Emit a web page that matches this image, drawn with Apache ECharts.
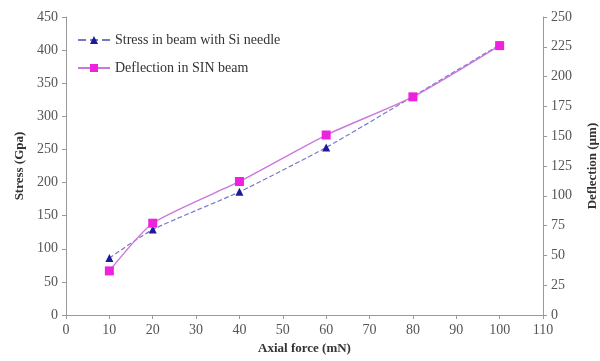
<!DOCTYPE html>
<html>
<head>
<meta charset="utf-8">
<script src="https://cdn.jsdelivr.net/npm/echarts@6/dist/echarts.min.js"></script>
<style>
  html, body { margin: 0; padding: 0; background: #fff; }
  #chart { width: 600px; height: 361px; }
</style>
</head>
<body>
<div id="chart"></div>
<script>
// values
var forces = [10, 20, 40, 60, 80, 100];
var stress = [86, 129, 186, 253, 330, 408];
var deflection = [37, 77, 112, 151, 183, 226];

var font = 'Liberation Serif';

function pairs(xs, ys) {
    return xs.map(function (x, i) { return [x, ys[i]]; });
}

var chart = echarts.init(document.getElementById('chart'));
chart.setOption({
    animation: false,
    textStyle: { fontFamily: font },
    grid: { left: 66, right: 57, top: 17, bottom: 46, outerBoundsMode: 'none' },
    legend: {
        orient: 'vertical',
        left: 72,
        top: 28,
        itemGap: 14,
        itemWidth: 32,
        itemHeight: 10,
        textStyle: { fontFamily: font, fontSize: 14, color: '#333' },
        data: ['Stress in beam with Si needle', 'Deflection in SIN beam']
    },
    xAxis: {
        type: 'value',
        min: 0,
        max: 110,
        interval: 10,
        name: 'Axial force (mN)',
        nameLocation: 'middle',
        nameGap: 24,
        nameTextStyle: { fontFamily: font, fontWeight: 'bold', fontSize: 13, color: '#333' },
        axisLine: { lineStyle: { color: '#999' } },
        axisTick: { show: true, length: 4, lineStyle: { color: '#999' } },
        axisLabel: { color: '#555', fontSize: 14, fontFamily: font },
        splitLine: { show: false }
    },
    yAxis: [{
        type: 'value',
        min: 0,
        max: 450,
        interval: 50,
        name: 'Stress (Gpa)',
        nameLocation: 'middle',
        nameGap: 40,
        nameTextStyle: { fontFamily: font, fontWeight: 'bold', fontSize: 13, color: '#333' },
        axisLine: { show: true, lineStyle: { color: '#999' } },
        axisTick: { show: true, length: 4, lineStyle: { color: '#999' } },
        axisLabel: { color: '#555', fontSize: 14, fontFamily: font },
        splitLine: { show: false }
    }, {
        type: 'value',
        min: 0,
        max: 250,
        interval: 25,
        position: 'right',
        name: 'Deflection (µm)',
        nameLocation: 'middle',
        nameRotate: 90,
        nameGap: 43,
        nameTextStyle: { fontFamily: font, fontWeight: 'bold', fontSize: 13, color: '#333' },
        axisLine: { show: true, lineStyle: { color: '#999' } },
        axisTick: { show: true, length: 4, lineStyle: { color: '#999' } },
        axisLabel: { color: '#555', fontSize: 14, fontFamily: font },
        splitLine: { show: false }
    }],
    series: [{
        name: 'Stress in beam with Si needle',
        type: 'line',
        yAxisIndex: 0,
        data: pairs(forces, stress),
        smooth: 0.2,
        symbol: 'triangle',
        symbolSize: 8,
        itemStyle: { color: '#1a1a9a' },
        lineStyle: { color: '#7878c8', width: 1.2, type: 'dashed' }
    }, {
        name: 'Deflection in SIN beam',
        type: 'line',
        yAxisIndex: 1,
        data: pairs(forces, deflection),
        smooth: 0.2,
        symbol: 'rect',
        symbolSize: 9,
        itemStyle: { color: '#ee22dd' },
        lineStyle: { color: '#cc77dd', width: 1.4 }
    }]
});
</script>
</body>
</html>
